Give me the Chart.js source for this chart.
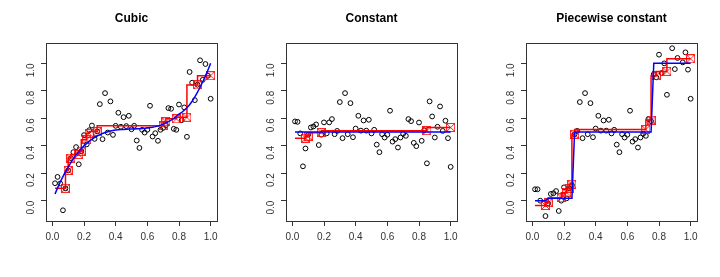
<!DOCTYPE html>
<html>
<head>
<meta charset="utf-8">
<script src="https://cdn.jsdelivr.net/npm/chart.js@4"></script>
<style>
  body { margin: 0; background: #fff; }
  #wrap { position: relative; width: 720px; height: 277px; }
  canvas { position: absolute; top: 0; }
</style>
</head>
<body>
<div id="wrap">
  <canvas id="c1" width="240" height="277" style="left:0px"></canvas>
  <canvas id="c2" width="240" height="277" style="left:240px"></canvas>
  <canvas id="c3" width="240" height="277" style="left:480px"></canvas>
</div>
<script>
// x positions of the 60 observations
const xs = [0.017,0.033,0.05,0.067,0.083,0.1,0.117,0.133,0.15,0.167,0.183,0.2,0.217,0.233,0.25,0.267,0.283,0.3,0.317,0.333,
            0.35,0.367,0.383,0.4,0.417,0.433,0.45,0.467,0.483,0.5,0.517,0.533,0.55,0.567,0.583,0.6,0.617,0.633,0.65,0.667,
            0.683,0.7,0.717,0.733,0.75,0.767,0.783,0.8,0.817,0.833,0.85,0.867,0.883,0.9,0.917,0.933,0.95,0.967,0.983,1.0];

// observed values
const cubicY = [0.127,0.173,0.125,-0.07,0.09,0.22,0.31,0.353,0.39,0.265,0.36,0.477,0.41,0.513,0.547,0.45,0.504,0.703,0.448,0.783,
                0.496,0.723,0.479,0.545,0.64,0.538,0.608,0.543,0.618,0.52,0.545,0.438,0.384,0.516,0.496,0.516,0.691,0.467,0.491,0.436,
                0.516,0.53,0.55,0.674,0.669,0.523,0.516,0.70,0.586,0.679,0.465,0.937,0.859,0.732,0.844,1.022,0.88,0.995,0.91,0.742];
const constY = [0.577,0.574,0.49,0.25,0.38,0.48,0.533,0.54,0.555,0.405,0.48,0.57,0.49,0.57,0.594,0.484,0.508,0.718,0.455,0.783,
                0.484,0.71,0.462,0.525,0.618,0.51,0.584,0.51,0.589,0.49,0.516,0.408,0.353,0.484,0.46,0.48,0.655,0.43,0.448,0.387,
                0.46,0.487,0.472,0.594,0.579,0.421,0.397,0.569,0.436,0.513,0.272,0.723,0.613,0.46,0.538,0.686,0.508,0.582,0.455,0.246];
const stepY  = [0.083,0.083,0.0,-0.23,-0.112,-0.02,0.049,0.054,0.07,-0.075,0.0,0.097,0.017,0.09,0.114,0.484,0.508,0.718,0.455,0.783,
                0.484,0.71,0.462,0.525,0.618,0.51,0.584,0.51,0.589,0.49,0.516,0.408,0.353,0.484,0.46,0.48,0.655,0.43,0.448,0.387,
                0.46,0.487,0.472,0.594,0.579,0.921,0.898,1.063,0.93,1.0,0.771,1.223,1.11,0.958,1.039,1.186,1.007,1.08,0.954,0.742];

// true curves (blue)
const cubicTrue = [0.048,0.093,0.136,0.175,0.211,0.245,0.277,0.306,0.333,0.357,0.379,0.399,0.417,0.433,0.447,0.46,0.471,0.481,0.489,0.496,
                   0.502,0.507,0.511,0.514,0.516,0.518,0.519,0.52,0.521,0.522,0.522,0.523,0.524,0.525,0.527,0.529,0.532,0.535,0.539,0.544,
                   0.55,0.557,0.566,0.576,0.587,0.6,0.614,0.63,0.642,0.658,0.676,0.698,0.724,0.755,0.79,0.826,0.866,0.907,0.951,1.0];
const constTrueX = [0.017, 1.0];
const constTrueY = [0.5, 0.5];
const stepTrueX = [0.017, 0.083, 0.1, 0.25, 0.267, 0.75, 0.767, 1.0];
const stepTrueY = [0.0, 0.0, 0.017, 0.017, 0.5, 0.5, 1.0, 1.0];

// isotonic fit (red): first level, then knots
const cubicKnotX = [0.083,0.1,0.117,0.167,0.183,0.217,0.233,0.283,0.7,0.717,0.783,0.85,0.917,1.0];
const cubicKnotY = [0.09,0.22,0.31,0.336,0.36,0.443,0.49,0.503,0.545,0.575,0.596,0.607,0.843,0.91];
const constKnotX = [0.083,0.1,0.183,0.85,1.0];
const constKnotY = [0.455,0.47,0.495,0.51,0.533];
const stepKnotX  = [0.083,0.1,0.183,0.217,0.233,0.25,0.267,0.717,0.75,0.783,0.85,1.0];
const stepKnotY  = [-0.035,-0.015,0.02,0.057,0.09,0.12,0.484,0.518,0.587,0.91,0.941,1.033];

const tickVals = [0, 0.2, 0.4, 0.6, 0.8, 1.0];
const tickLabels = ['0.0', '0.2', '0.4', '0.6', '0.8', '1.0'];

// square with a cross, like R pch 7
function knotMarker() {
    const c = document.createElement('canvas');
    c.width = 9; c.height = 9;
    const g = c.getContext('2d');
    g.strokeStyle = 'rgba(255,0,0,0.85)';
    g.lineWidth = 1;
    g.strokeRect(0.5, 0.5, 8, 8);
    g.beginPath();
    g.moveTo(0.5, 0.5); g.lineTo(8.5, 8.5);
    g.moveTo(8.5, 0.5); g.lineTo(0.5, 8.5);
    g.stroke();
    return c;
}
const marker = knotMarker();

const framePlugin = {
    id: 'frame',
    afterDraw(chart, args, opts) {
        const a = chart.chartArea, ctx = chart.ctx;
        ctx.save();
        ctx.strokeStyle = '#333';
        ctx.lineWidth = 1;
        ctx.strokeRect(Math.round(a.left) + 0.5, Math.round(a.top) + 0.5,
                       Math.round(a.right - a.left), Math.round(a.bottom - a.top));
        ctx.fillStyle = '#000';
        ctx.font = 'bold 12px "Liberation Sans", Arial, sans-serif';
        ctx.textAlign = 'center';
        ctx.textBaseline = 'middle';
        ctx.fillText(opts.text, (a.left + a.right) / 2, 19);
        ctx.restore();
    }
};

function pts(x, y) { return x.map((v, i) => ({x: v, y: y[i]})); }

function makePanel(id, title, obsY, trueX, trueY, knotX, knotY) {
    const redLine = [{x: xs[0], y: knotY[0]}].concat(pts(knotX, knotY));
    new Chart(document.getElementById(id), {
        type: 'scatter',
        data: {
            datasets: [
                { data: pts(trueX, trueY), showLine: true, borderColor: '#0000ff', borderWidth: 1.5,
                  pointRadius: 0, tension: 0 },
                { data: pts(knotX, knotY), pointStyle: marker, pointRadius: 5 },
                { data: redLine, showLine: true, stepped: 'after', borderColor: '#ff0000', borderWidth: 1.5,
                  pointRadius: 0 },
                { data: pts(xs, obsY), pointStyle: 'circle', pointRadius: 2.4, borderColor: '#000',
                  backgroundColor: 'rgba(0,0,0,0)', borderWidth: 1 }
            ]
        },
        options: {
            responsive: false,
            animation: false,
            devicePixelRatio: 1,
            layout: { padding: { top: 43, right: 23, left: 0, bottom: 0 } },
            plugins: { legend: { display: false }, tooltip: { enabled: false }, frame: { text: title } },
            scales: {
                x: {
                    min: -0.04, max: 1.04,
                    afterBuildTicks: s => { s.ticks = tickVals.map(v => ({value: v})); },
                    afterFit: s => { s.height = 56; },
                    grid: { drawOnChartArea: false, drawTicks: true, tickLength: 5, color: '#333' },
                    border: { display: false },
                    ticks: { color: '#333', font: { size: 10, family: '"Liberation Sans", Arial, sans-serif' },
                             padding: 5, maxRotation: 0, autoSkip: false,
                             callback: (v, i) => tickLabels[i] }
                },
                y: {
                    min: -0.148, max: 1.148,
                    afterBuildTicks: s => { s.ticks = tickVals.map(v => ({value: v})); },
                    afterFit: s => { s.width = 46; },
                    grid: { drawOnChartArea: false, drawTicks: true, tickLength: 5, color: '#333' },
                    border: { display: false },
                    ticks: { color: '#333', font: { size: 10, family: '"Liberation Sans", Arial, sans-serif' },
                             padding: 10, minRotation: 90, maxRotation: 90, autoSkip: false,
                             callback: (v, i) => tickLabels[i] }
                }
            }
        },
        plugins: [framePlugin]
    });
}

makePanel('c1', 'Cubic', cubicY, xs, cubicTrue, cubicKnotX, cubicKnotY);
makePanel('c2', 'Constant', constY, constTrueX, constTrueY, constKnotX, constKnotY);
makePanel('c3', 'Piecewise constant', stepY, stepTrueX, stepTrueY, stepKnotX, stepKnotY);
</script>
</body>
</html>
